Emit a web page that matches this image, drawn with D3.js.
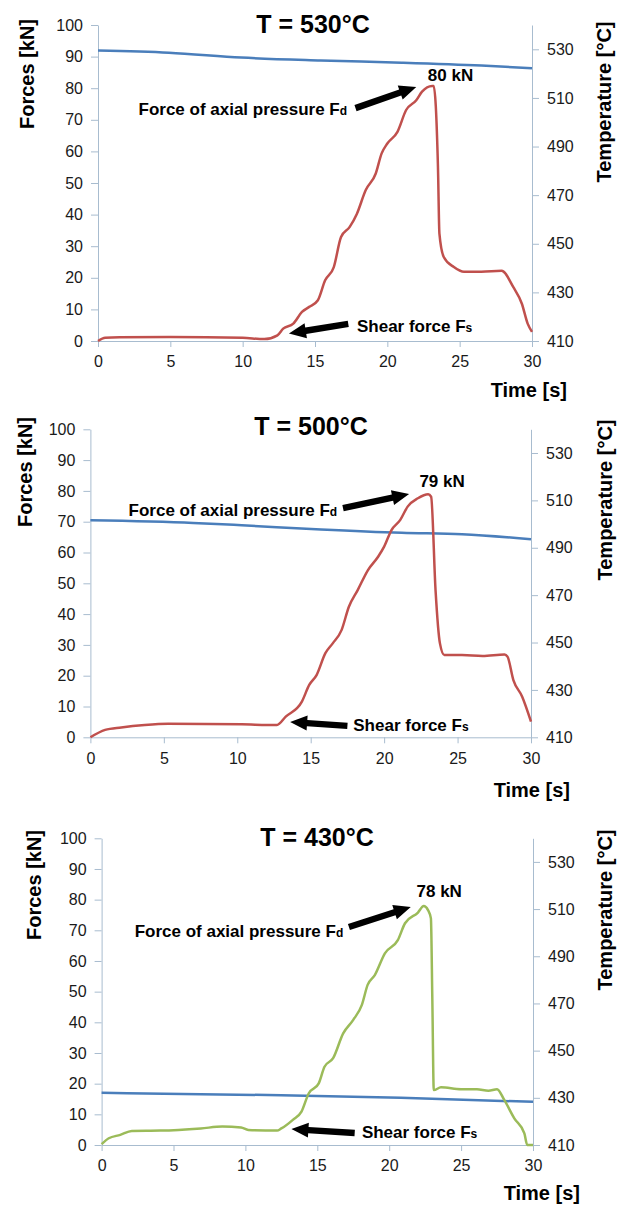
<!DOCTYPE html>
<html><head><meta charset="utf-8">
<script src="https://cdn.jsdelivr.net/npm/d3@7"></script>
<style>body{margin:0;background:#fff}svg{display:block}</style>
</head><body><svg id="c" width="628" height="1206"></svg>
<script>
// ---------- data ----------
const timeTicks = [0, 5, 10, 15, 20, 25, 30];
const forceTicks = [0, 10, 20, 30, 40, 50, 60, 70, 80, 90, 100];
const tempTicks = [410, 430, 450, 470, 490, 510, 530];
const titles = ["T = 530°C", "T = 500°C", "T = 430°C"];
const peakLabels = ["80 kN", "79 kN", "78 kN"];
const fdLabel = "Force of axial pressure F";
const fsLabel = "Shear force F";

// T = 530 °C
const time530 = [0, 0.5, 1.5, 5, 10, 11.5, 12.4, 12.8, 13.5, 14.1, 14.6, 15.2, 15.7, 16.3, 16.8, 17.4, 17.9, 18.5, 19.2, 19.6, 20.0, 20.7, 21.3, 22.0, 22.4, 23.1, 23.2, 23.5, 23.6, 23.9, 24.6, 25.3, 26.5, 27.9, 28.7, 29.3, 29.7, 30];
const force530 = [0, 1.0, 1.2, 1.3, 1.0, 0.6, 1.8, 3.9, 5.5, 9.2, 10.8, 12.9, 19.2, 23.4, 32.9, 36.1, 40.3, 47.7, 53.0, 59.3, 62.5, 66.2, 73.1, 76.2, 78.9, 80.7, 80.7, 55.0, 34.0, 26.6, 23.4, 21.9, 21.9, 22.2, 17.1, 11.8, 5.5, 2.9];
const tempTime530 = [0, 4.9, 9.9, 15.4, 21.0, 26.5, 30];
const temp530 = [529.5, 528.6, 526.6, 525.4, 524.5, 523.3, 522.2];

// T = 500 °C
const time500 = [0, 1.0, 2.1, 3.7, 5.3, 10.3, 12.7, 13.3, 14.4, 14.9, 15.4, 16.0, 16.5, 17.1, 17.6, 18.2, 18.9, 19.6, 20.0, 20.5, 21.1, 21.6, 22.3, 23.0, 23.2, 23.5, 23.8, 24.1, 25.3, 26.7, 28.2, 28.4, 28.8, 29.4, 30];
const force500 = [0, 2.4, 3.2, 4.0, 4.4, 4.2, 4.0, 6.7, 11.6, 17.0, 20.2, 27.3, 30.5, 34.8, 42.4, 47.8, 54.3, 58.7, 61.9, 67.3, 70.6, 74.9, 77.6, 78.9, 78.1, 47.8, 30.5, 26.7, 26.7, 26.4, 26.9, 26.2, 18.6, 13.2, 5.1];
const tempTime500 = [0, 7, 10.3, 15.7, 21.2, 25.3, 30];
const temp500 = [501.6, 500.5, 499.5, 497.7, 496.3, 495.7, 493.6];

// T = 430 °C
const time430 = [0, 0.5, 1.3, 2.1, 4.1, 6.9, 8.4, 9.7, 10.2, 12.2, 12.5, 13.3, 13.9, 14.4, 15.1, 15.5, 16.1, 16.8, 17.5, 18.1, 18.5, 19.0, 19.7, 20.6, 21.1, 22.0, 22.4, 22.7, 22.9, 23.0, 23.1, 23.6, 25.0, 26.1, 26.9, 27.5, 28.0, 28.7, 29.4, 29.6, 30];
const force430 = [0.3, 2.2, 3.3, 4.6, 4.7, 5.4, 6.0, 5.7, 4.9, 4.7, 5.4, 8.2, 10.9, 16.8, 20.1, 25.5, 28.3, 36.4, 40.8, 45.7, 52.2, 55.4, 62.5, 66.8, 72.3, 75.8, 77.9, 76.6, 73.9, 47.3, 17.9, 18.8, 18.2, 18.2, 17.7, 18.2, 14.7, 8.7, 3.8, 0, 0];
const tempTime430 = [0, 12.5, 20.8, 30];
const temp430 = [432.1, 431.1, 430.0, 428.3];

// ---------- layout ----------
const panels = [
  { x0: 98, x1: 532, top: 25, bot: 341, color: "#c0504d",
    time: time530, force: force530, tt: tempTime530, temp: temp530,
    title: [313, 33], forcesLbl: [34, 74], tempLbl: [611, 102], timeLbl: [567, 397],
    fd: [2.8, 71.6], fdArrow: [[17.8, 73.7], [22.0, 80.4]], peak: [22.8, 82.2],
    fs: [17.9, 2.8], fsArrow: [[17.3, 5.4], [13.2, 2.4]] },
  { x0: 90.4, x1: 531, top: 429.3, bot: 737.3, color: "#c0504d",
    time: time500, force: force500, tt: tempTime500, temp: temp500,
    title: [311, 435], forcesLbl: [32, 472], tempLbl: [612, 500], timeLbl: [570, 797],
    fd: [2.6, 71.8], fdArrow: [[17.2, 74.4], [21.7, 79.0]], peak: [22.4, 81.3],
    fs: [17.9, 2.0], fsArrow: [[17.5, 3.7], [13.6, 5.0]] },
  { x0: 101.6, x1: 533, top: 838.3, bot: 1145, color: "#9bbb59",
    time: time430, force: force430, tt: tempTime430, temp: temp430,
    title: [317, 846], forcesLbl: [41, 885], tempLbl: [612, 910], timeLbl: [580, 1200],
    fd: [2.3, 67.8], fdArrow: [[17.2, 71.1], [21.5, 77.6]], peak: [21.9, 80.9],
    fs: [18.1, 2.3], fsArrow: [[17.6, 3.9], [13.2, 5.2]] }
];

const svg = d3.select("#c");
const axisColor = "#a8bccf";
const font = "'Liberation Sans', Arial, sans-serif";

function arrow(g, p, q) {
  const [x1, y1] = p, [x2, y2] = q;
  const dx = x2 - x1, dy = y2 - y1, L = Math.hypot(dx, dy);
  const ux = dx / L, uy = dy / L, nx = -uy, ny = ux;
  const hl = 17, hw = 7.5, sw = 3.2;
  const bx = x2 - ux * hl, by = y2 - uy * hl;
  const pts = [
    [x1 + nx * sw, y1 + ny * sw], [bx + nx * sw, by + ny * sw], [bx + nx * hw, by + ny * hw],
    [x2, y2], [bx - nx * hw, by - ny * hw], [bx - nx * sw, by - ny * sw], [x1 - nx * sw, y1 - ny * sw]
  ];
  g.append("polygon").attr("points", pts.map(d => d.join(",")).join(" ")).attr("fill", "#000");
}

panels.forEach((P, i) => {
  const g = svg.append("g");
  const x = d3.scaleLinear().domain([0, 30]).range([P.x0, P.x1]);
  const y = d3.scaleLinear().domain([0, 100]).range([P.bot, P.top]);
  const yr = d3.scaleLinear().domain([410, 540]).range([P.bot, P.top]);

  const styleAxis = sel => {
    sel.selectAll("path,line").attr("stroke", axisColor).attr("stroke-width", 1);
    sel.selectAll("text").attr("fill", "#1a1a1a").style("font-family", font).style("font-size", "16px");
  };
  g.append("g").attr("transform", `translate(0,${P.bot})`)
    .call(d3.axisBottom(x).tickValues(timeTicks).tickSize(6).tickSizeOuter(0).tickPadding(9))
    .call(styleAxis);
  g.append("g").attr("transform", `translate(${P.x0},0)`)
    .call(d3.axisLeft(y).tickValues(forceTicks).tickSize(7).tickSizeOuter(0).tickPadding(8))
    .call(styleAxis);
  g.append("g").attr("transform", `translate(${P.x1},0)`)
    .call(d3.axisRight(yr).tickValues(tempTicks).tickSize(7).tickSizeOuter(0).tickPadding(8))
    .call(styleAxis);

  const tempLine = d3.line().x(d => x(d[0])).y(d => yr(d[1])).curve(d3.curveMonotoneX);
  const forceLine = d3.line().x(d => x(d[0])).y(d => y(d[1])).curve(d3.curveMonotoneX);

  g.append("path").datum(d3.zip(P.tt, P.temp)).attr("d", tempLine)
    .attr("fill", "none").attr("stroke", "#4a7ebb").attr("stroke-width", 2.5);
  g.append("path").datum(d3.zip(P.time, P.force)).attr("d", forceLine)
    .attr("fill", "none").attr("stroke", P.color).attr("stroke-width", 2.5).attr("stroke-linejoin", "round");

  // texts
  g.append("text").attr("x", P.title[0]).attr("y", P.title[1]).attr("text-anchor", "middle")
    .style("font-family", font).style("font-weight", "bold").style("font-size", "25px").text(titles[i]);
  g.append("text").attr("transform", `translate(${P.forcesLbl[0]},${P.forcesLbl[1]}) rotate(-90)`)
    .attr("text-anchor", "middle").style("font-family", font).style("font-weight", "bold").style("font-size", "20px")
    .text("Forces [kN]");
  g.append("text").attr("transform", `translate(${P.tempLbl[0]},${P.tempLbl[1]}) rotate(-90)`)
    .attr("text-anchor", "middle").style("font-family", font).style("font-weight", "bold").style("font-size", "20px")
    .text("Temperature [°C]");
  g.append("text").attr("x", P.timeLbl[0]).attr("y", P.timeLbl[1]).attr("text-anchor", "end")
    .style("font-family", font).style("font-weight", "bold").style("font-size", "20px").text("Time [s]");

  const ann = (pos, main, sub) => {
    const t = g.append("text").attr("x", x(pos[0])).attr("y", y(pos[1]))
      .style("font-family", font).style("font-weight", "bold").style("font-size", "17px");
    t.append("tspan").text(main);
    if (sub) t.append("tspan").style("font-size", "12px").text(sub);
  };
  ann(P.fd, fdLabel, "d");
  ann(P.peak, peakLabels[i]);
  ann(P.fs, fsLabel, "s");
  arrow(g, [x(P.fdArrow[0][0]), y(P.fdArrow[0][1])], [x(P.fdArrow[1][0]), y(P.fdArrow[1][1])]);
  arrow(g, [x(P.fsArrow[0][0]), y(P.fsArrow[0][1])], [x(P.fsArrow[1][0]), y(P.fsArrow[1][1])]);
});
</script></body></html>
